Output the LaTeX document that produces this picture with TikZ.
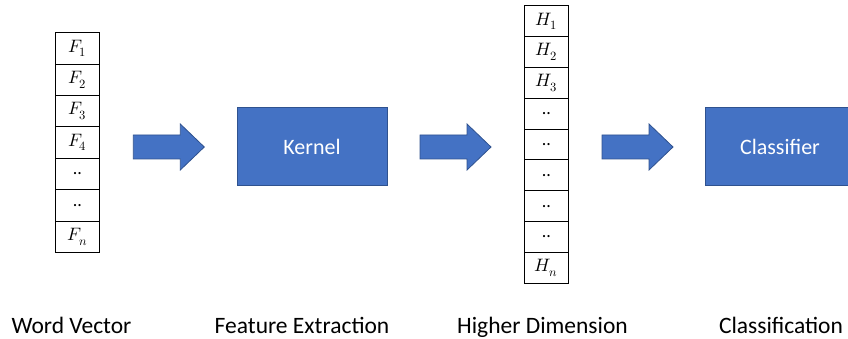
\documentclass[tikz,border=0pt]{standalone}
\usepackage{fontspec}
\usepackage{unicode-math}
\setmainfont{Carlito}
\setmathfont{Latin Modern Math}
\usetikzlibrary{calc}
\definecolor{boxblue}{HTML}{4472C4}
\definecolor{boxedge}{HTML}{2F528F}

% block arrow starting at coordinate #1: shaft 47 long and 24 high, head 24 long and 46 high
\newcommand\blockarrow[1]{%
  \fill[boxblue, draw=boxedge, line width=0.8pt]
    ($(#1)+(0,-12)$) -- ++(47,0) -- ++(0,-11) -- ++(24,23) -- ++(-24,23)
    -- ++(0,-11) -- ++(-47,0) -- cycle;}

\begin{document}
\begin{tikzpicture}[x=1pt,y=-1pt,
  cell/.style={draw=black, line width=1pt, minimum width=44pt, inner sep=0pt,
    font=\fontsize{18}{20}\selectfont},
  fcell/.style={cell, minimum height=31.4pt},
  hcell/.style={cell, minimum height=30.84pt},
  block/.style={fill=boxblue, draw=boxedge, line width=0.8pt, minimum width=150pt,
    minimum height=78pt, inner sep=0pt, text=white, font=\fontsize{22}{26}\selectfont},
  caption/.style={anchor=base, font=\fontsize{23.5}{28}\selectfont}]
\useasboundingbox (0,0) rectangle (848,339);
\clip (0,0) rectangle (848,339);

% word vector
\foreach \t [count=\i from 0] in {$F_1$,$F_2$,$F_3$,$F_4$,..,..,$F_n$}
  \node[fcell] (f\i) at (77.3, 32.7+15.7+31.4*\i) {\t};

% higher-dimension vector
\foreach \t [count=\i from 0] in {$H_1$,$H_2$,$H_3$,..,..,..,..,..,$H_n$}
  \node[hcell] (h\i) at (546.3, 5.7+15.42+30.84*\i) {\t};

% processing blocks (the classifier runs past the right edge)
\node[block] (kernel) at (312,146.7) {Kernel};
\node[block] (classifier) at (780,146.7) {Classifier};

% block arrows between the stages
\coordinate (a1) at (133.3,147);
\coordinate (a2) at (420,147);
\coordinate (a3) at (602,147);
\blockarrow{a1}
\blockarrow{a2}
\blockarrow{a3}

% stage captions
\node[caption] (c1) at (71.5,333) {Word Vector};
\node[caption] (c2) at (302,333) {Feature Extraction};
\node[caption] (c3) at (542.5,333) {Higher Dimension};
\node[caption] (c4) at (781,333) {Classification};
\end{tikzpicture}
\end{document}
